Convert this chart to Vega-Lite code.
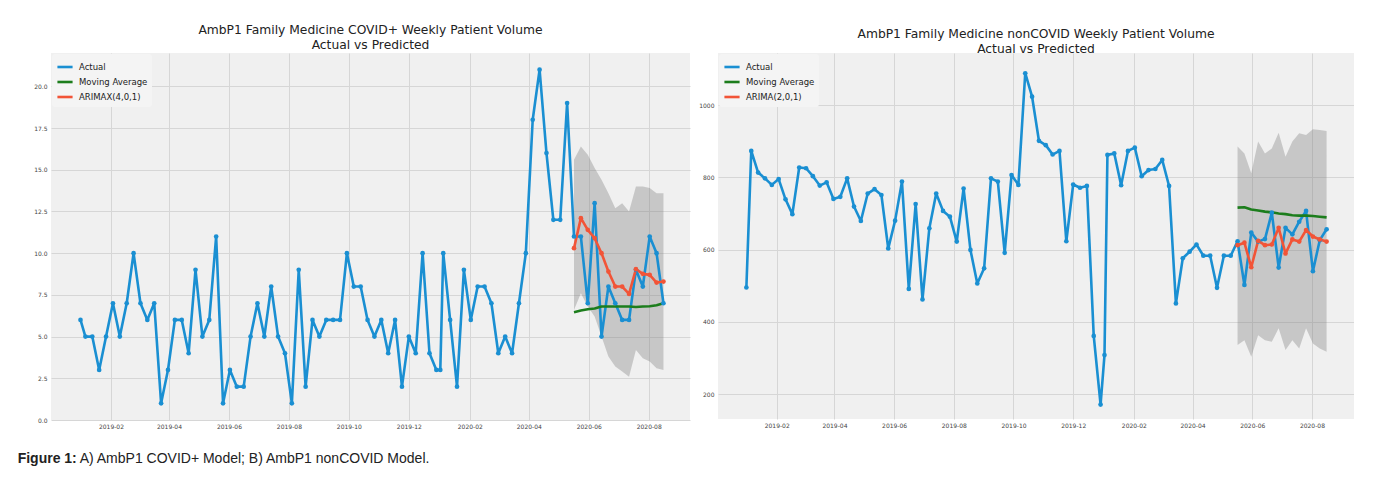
{
  "$schema": "https://vega.github.io/schema/vega-lite/v6.json",
  "padding": {"left": 17, "top": 23, "right": 0, "bottom": 0},
  "background": "white",
  "datasets": {
    "covid": [
      {"d":"2019-01-01","s":"Actual","v":6},{"d":"2019-01-06","s":"Actual","v":5},{"d":"2019-01-13","s":"Actual","v":5},{"d":"2019-01-20","s":"Actual","v":3},{"d":"2019-01-27","s":"Actual","v":5},
      {"d":"2019-02-03","s":"Actual","v":7},{"d":"2019-02-10","s":"Actual","v":5},{"d":"2019-02-17","s":"Actual","v":7},{"d":"2019-02-24","s":"Actual","v":10},
      {"d":"2019-03-03","s":"Actual","v":7},{"d":"2019-03-10","s":"Actual","v":6},{"d":"2019-03-17","s":"Actual","v":7},{"d":"2019-03-24","s":"Actual","v":1},{"d":"2019-03-31","s":"Actual","v":3},
      {"d":"2019-04-07","s":"Actual","v":6},{"d":"2019-04-14","s":"Actual","v":6},{"d":"2019-04-21","s":"Actual","v":4},{"d":"2019-04-28","s":"Actual","v":9},
      {"d":"2019-05-05","s":"Actual","v":5},{"d":"2019-05-12","s":"Actual","v":6},{"d":"2019-05-19","s":"Actual","v":11},{"d":"2019-05-26","s":"Actual","v":1},
      {"d":"2019-06-02","s":"Actual","v":3},{"d":"2019-06-09","s":"Actual","v":2},{"d":"2019-06-16","s":"Actual","v":2},{"d":"2019-06-23","s":"Actual","v":5},{"d":"2019-06-30","s":"Actual","v":7},
      {"d":"2019-07-07","s":"Actual","v":5},{"d":"2019-07-14","s":"Actual","v":8},{"d":"2019-07-21","s":"Actual","v":5},{"d":"2019-07-28","s":"Actual","v":4},
      {"d":"2019-08-04","s":"Actual","v":1},{"d":"2019-08-11","s":"Actual","v":9},{"d":"2019-08-18","s":"Actual","v":2},{"d":"2019-08-25","s":"Actual","v":6},
      {"d":"2019-09-01","s":"Actual","v":5},{"d":"2019-09-08","s":"Actual","v":6},{"d":"2019-09-15","s":"Actual","v":6},{"d":"2019-09-22","s":"Actual","v":6},{"d":"2019-09-29","s":"Actual","v":10},
      {"d":"2019-10-06","s":"Actual","v":8},{"d":"2019-10-13","s":"Actual","v":8},{"d":"2019-10-20","s":"Actual","v":6},{"d":"2019-10-27","s":"Actual","v":5},
      {"d":"2019-11-03","s":"Actual","v":6},{"d":"2019-11-10","s":"Actual","v":4},{"d":"2019-11-17","s":"Actual","v":6},{"d":"2019-11-24","s":"Actual","v":2},
      {"d":"2019-12-01","s":"Actual","v":5},{"d":"2019-12-08","s":"Actual","v":4},{"d":"2019-12-15","s":"Actual","v":10},{"d":"2019-12-22","s":"Actual","v":4},{"d":"2019-12-29","s":"Actual","v":3},
      {"d":"2020-01-02","s":"Actual","v":3},{"d":"2020-01-05","s":"Actual","v":10},{"d":"2020-01-12","s":"Actual","v":6},{"d":"2020-01-19","s":"Actual","v":2},{"d":"2020-01-26","s":"Actual","v":9},
      {"d":"2020-02-02","s":"Actual","v":6},{"d":"2020-02-09","s":"Actual","v":8},{"d":"2020-02-16","s":"Actual","v":8},{"d":"2020-02-23","s":"Actual","v":7},
      {"d":"2020-03-01","s":"Actual","v":4},{"d":"2020-03-08","s":"Actual","v":5},{"d":"2020-03-15","s":"Actual","v":4},{"d":"2020-03-22","s":"Actual","v":7},{"d":"2020-03-29","s":"Actual","v":10},
      {"d":"2020-04-05","s":"Actual","v":18},{"d":"2020-04-12","s":"Actual","v":21},{"d":"2020-04-19","s":"Actual","v":16},{"d":"2020-04-26","s":"Actual","v":12},
      {"d":"2020-05-03","s":"Actual","v":12},{"d":"2020-05-10","s":"Actual","v":19},{"d":"2020-05-17","s":"Actual","v":11},{"d":"2020-05-24","s":"Actual","v":11},{"d":"2020-05-31","s":"Actual","v":7},
      {"d":"2020-06-07","s":"Actual","v":13},{"d":"2020-06-14","s":"Actual","v":5},{"d":"2020-06-21","s":"Actual","v":8},{"d":"2020-06-28","s":"Actual","v":7},
      {"d":"2020-07-05","s":"Actual","v":6},{"d":"2020-07-12","s":"Actual","v":6},{"d":"2020-07-19","s":"Actual","v":9},{"d":"2020-07-26","s":"Actual","v":8},
      {"d":"2020-08-02","s":"Actual","v":11},{"d":"2020-08-09","s":"Actual","v":10},{"d":"2020-08-16","s":"Actual","v":7},
      {"d":"2020-05-17","s":"Moving Average","v":6.46},{"d":"2020-05-24","s":"Moving Average","v":6.56},{"d":"2020-05-31","s":"Moving Average","v":6.64},{"d":"2020-06-07","s":"Moving Average","v":6.68},
      {"d":"2020-06-14","s":"Moving Average","v":6.8},{"d":"2020-06-21","s":"Moving Average","v":6.8},{"d":"2020-06-28","s":"Moving Average","v":6.8},{"d":"2020-07-05","s":"Moving Average","v":6.8},
      {"d":"2020-07-12","s":"Moving Average","v":6.8},{"d":"2020-07-19","s":"Moving Average","v":6.77},{"d":"2020-07-26","s":"Moving Average","v":6.8},{"d":"2020-08-02","s":"Moving Average","v":6.82},
      {"d":"2020-08-09","s":"Moving Average","v":6.88},{"d":"2020-08-16","s":"Moving Average","v":7.0},
      {"d":"2020-05-17","s":"ARIMAX(4,0,1)","v":10.3},{"d":"2020-05-24","s":"ARIMAX(4,0,1)","v":12.1},{"d":"2020-05-31","s":"ARIMAX(4,0,1)","v":11.4},{"d":"2020-06-07","s":"ARIMAX(4,0,1)","v":10.9},
      {"d":"2020-06-14","s":"ARIMAX(4,0,1)","v":10.0},{"d":"2020-06-21","s":"ARIMAX(4,0,1)","v":8.9},{"d":"2020-06-28","s":"ARIMAX(4,0,1)","v":8.0},{"d":"2020-07-05","s":"ARIMAX(4,0,1)","v":8.0},
      {"d":"2020-07-12","s":"ARIMAX(4,0,1)","v":7.56},{"d":"2020-07-19","s":"ARIMAX(4,0,1)","v":9.04},{"d":"2020-07-26","s":"ARIMAX(4,0,1)","v":8.76},{"d":"2020-08-02","s":"ARIMAX(4,0,1)","v":8.7},
      {"d":"2020-08-09","s":"ARIMAX(4,0,1)","v":8.24},{"d":"2020-08-16","s":"ARIMAX(4,0,1)","v":8.3}
    ],
    "covid_band": [
      {"d":"2020-05-17","lo":6.6,"hi":15.6},{"d":"2020-05-24","lo":7.6,"hi":16.4},{"d":"2020-05-31","lo":6.8,"hi":15.9},{"d":"2020-06-07","lo":6.2,"hi":15.1},
      {"d":"2020-06-14","lo":5.0,"hi":14.4},{"d":"2020-06-21","lo":3.8,"hi":13.6},{"d":"2020-06-28","lo":3.2,"hi":12.7},{"d":"2020-07-05","lo":2.9,"hi":13.0},
      {"d":"2020-07-12","lo":2.6,"hi":12.5},{"d":"2020-07-19","lo":4.2,"hi":14.0},{"d":"2020-07-26","lo":3.7,"hi":14.0},{"d":"2020-08-02","lo":3.5,"hi":13.9},
      {"d":"2020-08-09","lo":3.1,"hi":13.6},{"d":"2020-08-16","lo":3.0,"hi":13.6}
    ],
    "noncovid": [
      {"d":"2019-01-01","s":"Actual","v":495},{"d":"2019-01-06","s":"Actual","v":873},{"d":"2019-01-13","s":"Actual","v":813},{"d":"2019-01-20","s":"Actual","v":797},{"d":"2019-01-27","s":"Actual","v":779},
      {"d":"2019-02-03","s":"Actual","v":795},{"d":"2019-02-10","s":"Actual","v":739},{"d":"2019-02-17","s":"Actual","v":698},{"d":"2019-02-24","s":"Actual","v":827},
      {"d":"2019-03-03","s":"Actual","v":825},{"d":"2019-03-10","s":"Actual","v":803},{"d":"2019-03-17","s":"Actual","v":777},{"d":"2019-03-24","s":"Actual","v":786},{"d":"2019-03-31","s":"Actual","v":740},
      {"d":"2019-04-07","s":"Actual","v":746},{"d":"2019-04-14","s":"Actual","v":797},{"d":"2019-04-21","s":"Actual","v":719},{"d":"2019-04-28","s":"Actual","v":679},
      {"d":"2019-05-05","s":"Actual","v":755},{"d":"2019-05-12","s":"Actual","v":767},{"d":"2019-05-19","s":"Actual","v":751},{"d":"2019-05-26","s":"Actual","v":603},
      {"d":"2019-06-02","s":"Actual","v":680},{"d":"2019-06-09","s":"Actual","v":788},{"d":"2019-06-16","s":"Actual","v":491},{"d":"2019-06-23","s":"Actual","v":726},{"d":"2019-06-30","s":"Actual","v":462},
      {"d":"2019-07-07","s":"Actual","v":659},{"d":"2019-07-14","s":"Actual","v":755},{"d":"2019-07-21","s":"Actual","v":707},{"d":"2019-07-28","s":"Actual","v":691},
      {"d":"2019-08-04","s":"Actual","v":622},{"d":"2019-08-11","s":"Actual","v":769},{"d":"2019-08-18","s":"Actual","v":599},{"d":"2019-08-25","s":"Actual","v":506},
      {"d":"2019-09-01","s":"Actual","v":548},{"d":"2019-09-08","s":"Actual","v":797},{"d":"2019-09-15","s":"Actual","v":788},{"d":"2019-09-22","s":"Actual","v":591},{"d":"2019-09-29","s":"Actual","v":806},
      {"d":"2019-10-06","s":"Actual","v":779},{"d":"2019-10-13","s":"Actual","v":1088},{"d":"2019-10-20","s":"Actual","v":1023},{"d":"2019-10-27","s":"Actual","v":901},
      {"d":"2019-11-03","s":"Actual","v":889},{"d":"2019-11-10","s":"Actual","v":863},{"d":"2019-11-17","s":"Actual","v":873},{"d":"2019-11-24","s":"Actual","v":623},
      {"d":"2019-12-01","s":"Actual","v":780},{"d":"2019-12-08","s":"Actual","v":771},{"d":"2019-12-15","s":"Actual","v":776},{"d":"2019-12-22","s":"Actual","v":361},{"d":"2019-12-29","s":"Actual","v":171},
      {"d":"2020-01-02","s":"Actual","v":308},{"d":"2020-01-05","s":"Actual","v":862},{"d":"2020-01-12","s":"Actual","v":866},{"d":"2020-01-19","s":"Actual","v":778},{"d":"2020-01-26","s":"Actual","v":873},
      {"d":"2020-02-02","s":"Actual","v":882},{"d":"2020-02-09","s":"Actual","v":803},{"d":"2020-02-16","s":"Actual","v":820},{"d":"2020-02-23","s":"Actual","v":823},
      {"d":"2020-03-01","s":"Actual","v":848},{"d":"2020-03-08","s":"Actual","v":776},{"d":"2020-03-15","s":"Actual","v":451},{"d":"2020-03-22","s":"Actual","v":576},{"d":"2020-03-29","s":"Actual","v":594},
      {"d":"2020-04-05","s":"Actual","v":614},{"d":"2020-04-12","s":"Actual","v":583},{"d":"2020-04-19","s":"Actual","v":583},{"d":"2020-04-26","s":"Actual","v":494},
      {"d":"2020-05-03","s":"Actual","v":583},{"d":"2020-05-10","s":"Actual","v":583},{"d":"2020-05-17","s":"Actual","v":623},{"d":"2020-05-24","s":"Actual","v":502},{"d":"2020-05-31","s":"Actual","v":647},
      {"d":"2020-06-07","s":"Actual","v":622},{"d":"2020-06-14","s":"Actual","v":629},{"d":"2020-06-21","s":"Actual","v":702},{"d":"2020-06-28","s":"Actual","v":550},
      {"d":"2020-07-05","s":"Actual","v":660},{"d":"2020-07-12","s":"Actual","v":642},{"d":"2020-07-19","s":"Actual","v":677},{"d":"2020-07-26","s":"Actual","v":707},
      {"d":"2020-08-02","s":"Actual","v":540},{"d":"2020-08-09","s":"Actual","v":626},{"d":"2020-08-16","s":"Actual","v":656},
      {"d":"2020-05-17","s":"Moving Average","v":716},{"d":"2020-05-24","s":"Moving Average","v":717},{"d":"2020-05-31","s":"Moving Average","v":711},{"d":"2020-06-07","s":"Moving Average","v":708},
      {"d":"2020-06-14","s":"Moving Average","v":705},{"d":"2020-06-21","s":"Moving Average","v":703},{"d":"2020-06-28","s":"Moving Average","v":700},{"d":"2020-07-05","s":"Moving Average","v":698},
      {"d":"2020-07-12","s":"Moving Average","v":695},{"d":"2020-07-19","s":"Moving Average","v":694},{"d":"2020-07-26","s":"Moving Average","v":694},{"d":"2020-08-02","s":"Moving Average","v":693},
      {"d":"2020-08-09","s":"Moving Average","v":691},{"d":"2020-08-16","s":"Moving Average","v":689},
      {"d":"2020-05-17","s":"ARIMA(2,0,1)","v":612},{"d":"2020-05-24","s":"ARIMA(2,0,1)","v":619},{"d":"2020-05-31","s":"ARIMA(2,0,1)","v":551},{"d":"2020-06-07","s":"ARIMA(2,0,1)","v":624},
      {"d":"2020-06-14","s":"ARIMA(2,0,1)","v":612},{"d":"2020-06-21","s":"ARIMA(2,0,1)","v":614},{"d":"2020-06-28","s":"ARIMA(2,0,1)","v":660},{"d":"2020-07-05","s":"ARIMA(2,0,1)","v":589},
      {"d":"2020-07-12","s":"ARIMA(2,0,1)","v":628},{"d":"2020-07-19","s":"ARIMA(2,0,1)","v":622},{"d":"2020-07-26","s":"ARIMA(2,0,1)","v":654},{"d":"2020-08-02","s":"ARIMA(2,0,1)","v":636},
      {"d":"2020-08-09","s":"ARIMA(2,0,1)","v":628},{"d":"2020-08-16","s":"ARIMA(2,0,1)","v":622}
    ],
    "noncovid_band": [
      {"d":"2020-05-17","lo":336,"hi":885},{"d":"2020-05-24","lo":349,"hi":866},{"d":"2020-05-31","lo":303,"hi":811},{"d":"2020-06-07","lo":363,"hi":899},
      {"d":"2020-06-14","lo":349,"hi":866},{"d":"2020-06-21","lo":345,"hi":880},{"d":"2020-06-28","lo":382,"hi":923},{"d":"2020-07-05","lo":322,"hi":857},
      {"d":"2020-07-12","lo":349,"hi":899},{"d":"2020-07-19","lo":326,"hi":922},{"d":"2020-07-26","lo":382,"hi":917},{"d":"2020-08-02","lo":340,"hi":933},
      {"d":"2020-08-09","lo":326,"hi":931},{"d":"2020-08-16","lo":317,"hi":928}
    ]
  },
  "title": {"text": "Figure 1:", "orient": "bottom", "anchor": "start", "frame": "bounds", "font": "Liberation Sans", "fontSize": 14, "fontWeight": "bold", "color": "#222222", "dx": -16, "dy": -14, "offset": 0},
  "vconcat": [
    {
      "title": {"text": "A) AmbP1 COVID+ Model; B) AmbP1 nonCOVID Model.", "orient": "bottom", "anchor": "start", "frame": "bounds", "font": "Liberation Sans", "fontSize": 14, "fontWeight": "normal", "color": "#222222", "dx": 46, "offset": 23},
      "hconcat": [
        {
          "width": 639,
          "height": 367,
          "title": {"text": ["AmbP1 Family Medicine COVID+ Weekly Patient Volume", "Actual vs Predicted"]},
          "encoding": {
            "x": {"field": "d", "type": "temporal",
              "scale": {"domain": [{"year": 2018, "month": 12, "date": 2}, {"year": 2020, "month": 9, "date": 12}], "nice": false},
              "axis": {"values": [{"year":2019,"month":2,"date":1},{"year":2019,"month":4,"date":1},{"year":2019,"month":6,"date":1},{"year":2019,"month":8,"date":1},{"year":2019,"month":10,"date":1},{"year":2019,"month":12,"date":1},{"year":2020,"month":2,"date":1},{"year":2020,"month":4,"date":1},{"year":2020,"month":6,"date":1},{"year":2020,"month":8,"date":1}], "format": "%Y-%m", "labelPadding": 3}}
          },
          "layer": [
            {"data": {"name": "covid_band"}, "mark": {"type": "area", "color": "#7a7a7a", "opacity": 0.35},
             "encoding": {"y": {"field": "lo", "type": "quantitative", "scale": {"domain": [0, 22], "nice": false, "zero": false},
               "axis": {"values": [0, 2.5, 5, 7.5, 10, 12.5, 15, 17.5, 20], "format": ".1f", "labelPadding": 4}},
               "y2": {"field": "hi"}}},
            {"data": {"name": "covid"}, "mark": {"type": "line", "strokeWidth": 2.6, "strokeJoin": "round"},
             "encoding": {"y": {"field": "v", "type": "quantitative", "scale": {"domain": [0, 22], "nice": false, "zero": false}},
               "color": {"field": "s", "type": "nominal", "scale": {"domain": ["Actual", "Moving Average", "ARIMAX(4,0,1)"], "range": ["#1a8fd2", "#1c7d1c", "#f25437"]}, "legend": {"title": null}}}},
            {"data": {"name": "covid"}, "transform": [{"filter": "datum.s != 'Moving Average'"}], "mark": {"type": "point", "filled": true, "size": 22, "opacity": 1},
             "encoding": {"y": {"field": "v", "type": "quantitative", "scale": {"domain": [0, 22], "nice": false, "zero": false}},
               "color": {"field": "s", "type": "nominal", "scale": {"domain": ["Actual", "Moving Average", "ARIMAX(4,0,1)"], "range": ["#1a8fd2", "#1c7d1c", "#f25437"]}, "legend": {"title": null}}}}
          ]
        },
        {
          "width": 636,
          "height": 366,
          "title": {"text": ["AmbP1 Family Medicine nonCOVID Weekly Patient Volume", "Actual vs Predicted"], "dy": 4},
          "encoding": {
            "x": {"field": "d", "type": "temporal",
              "scale": {"domain": [{"year": 2018, "month": 12, "date": 3}, {"year": 2020, "month": 9, "date": 13}], "nice": false},
              "axis": {"values": [{"year":2019,"month":2,"date":1},{"year":2019,"month":4,"date":1},{"year":2019,"month":6,"date":1},{"year":2019,"month":8,"date":1},{"year":2019,"month":10,"date":1},{"year":2019,"month":12,"date":1},{"year":2020,"month":2,"date":1},{"year":2020,"month":4,"date":1},{"year":2020,"month":6,"date":1},{"year":2020,"month":8,"date":1}], "format": "%Y-%m", "labelPadding": 3}}
          },
          "layer": [
            {"data": {"name": "noncovid_band"}, "mark": {"type": "area", "color": "#7a7a7a", "opacity": 0.35},
             "encoding": {"y": {"field": "lo", "type": "quantitative", "scale": {"domain": [131, 1144], "nice": false, "zero": false},
               "axis": {"values": [200, 400, 600, 800, 1000], "format": "d", "labelPadding": 4}},
               "y2": {"field": "hi"}}},
            {"data": {"name": "noncovid"}, "mark": {"type": "line", "strokeWidth": 2.6, "strokeJoin": "round"},
             "encoding": {"y": {"field": "v", "type": "quantitative", "scale": {"domain": [131, 1144], "nice": false, "zero": false}},
               "color": {"field": "s", "type": "nominal", "scale": {"domain": ["Actual", "Moving Average", "ARIMA(2,0,1)"], "range": ["#1a8fd2", "#1c7d1c", "#f25437"]}, "legend": {"title": null}}}},
            {"data": {"name": "noncovid"}, "transform": [{"filter": "datum.s != 'Moving Average'"}], "mark": {"type": "point", "filled": true, "size": 22, "opacity": 1},
             "encoding": {"y": {"field": "v", "type": "quantitative", "scale": {"domain": [131, 1144], "nice": false, "zero": false}},
               "color": {"field": "s", "type": "nominal", "scale": {"domain": ["Actual", "Moving Average", "ARIMA(2,0,1)"], "range": ["#1a8fd2", "#1c7d1c", "#f25437"]}, "legend": {"title": null}}}}
          ]
        }
      ],
      "spacing": 8,
      "resolve": {"scale": {"color": "independent", "x": "independent", "y": "independent"}, "legend": {"color": "independent"}}
    }
  ],
  "config": {
    "font": "DejaVu Sans",
    "view": {"fill": "#f0f0f0", "stroke": null},
    "axis": {"domain": false, "ticks": false, "grid": true, "gridColor": "#d6d6d6", "gridWidth": 1, "labelFont": "DejaVu Sans", "labelFontSize": 6, "labelColor": "#444444", "title": null},
    "title": {"font": "DejaVu Sans", "fontSize": 12.3, "fontWeight": "normal", "color": "#222222", "anchor": "middle", "offset": 2, "lineHeight": 15},
    "legend": {"orient": "top-left", "offset": 1, "padding": 4, "fillColor": "#f4f4f4", "cornerRadius": 3, "symbolType": "stroke", "symbolSize": 230, "symbolStrokeWidth": 2.6, "labelFont": "DejaVu Sans", "labelFontSize": 8.5, "labelColor": "#222222", "rowPadding": -4, "labelOffset": 5}
  }
}
